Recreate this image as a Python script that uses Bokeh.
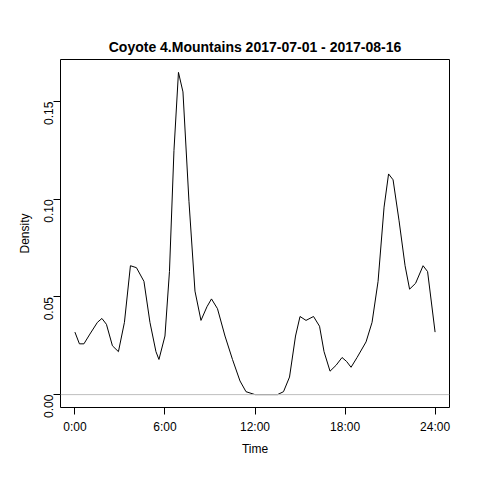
import math
from bokeh.plotting import figure
from bokeh.models import FixedTicker, Range1d, Span
from bokeh.embed import file_html
from bokeh.resources import INLINE

hours = [0,0.3,0.6,1.0,1.5,1.8,2.1,2.5,2.9,3.3,3.7,4.1,4.6,5.0,5.4,5.6,6.0,6.3,6.6,6.9,7.2,7.6,8.0,8.4,8.8,9.1,9.5,10.0,10.5,11.0,11.4,12,13.5,13.9,14.3,14.7,15.0,15.4,15.9,16.3,16.6,17.0,17.4,17.8,18.1,18.4,18.8,19.4,19.8,20.2,20.6,20.9,21.2,21.6,22.0,22.3,22.7,23.2,23.5,24.0]
density = [0.032,0.026,0.026,0.031,0.037,0.039,0.036,0.025,0.022,0.037,0.066,0.065,0.058,0.037,0.022,0.018,0.030,0.063,0.125,0.165,0.155,0.099,0.053,0.038,0.045,0.049,0.044,0.030,0.018,0.007,0.0015,0.0,0.0,0.0015,0.009,0.030,0.040,0.038,0.040,0.035,0.022,0.012,0.015,0.019,0.017,0.014,0.019,0.027,0.037,0.058,0.096,0.113,0.110,0.089,0.066,0.054,0.057,0.066,0.063,0.032]
x_ticks = [0, 6, 12, 18, 24]
x_labels = ["0:00", "6:00", "12:00", "18:00", "24:00"]
y_ticks = [0.0, 0.05, 0.10, 0.15]
y_labels = ["0.00", "0.05", "0.10", "0.15"]

p = figure(width=464, height=464, output_backend="svg", toolbar_location=None,
           x_range=Range1d(-0.96, 24.96), y_range=Range1d(-0.0066, 0.1716),
           min_border_left=60, min_border_right=15, min_border_top=59, min_border_bottom=57,
           title="Coyote 4.Mountains 2017-07-01 - 2017-08-16")
p.title.align = "center"
p.title.text_font = "Liberation Sans"
p.title.text_font_size = "14px"
p.title.text_font_style = "bold"
p.title.text_color = "black"
p.title.offset = 0
p.grid.visible = False
p.outline_line_color = "black"
p.background_fill_color = "white"

p.add_layout(Span(location=0, dimension="width", line_color="#bebebe", line_width=1))
p.line(hours, density, line_color="black", line_width=1)

p.xaxis.ticker = FixedTicker(ticks=x_ticks)
p.xaxis.major_label_overrides = {t: l for t, l in zip(x_ticks, x_labels)}
p.yaxis.ticker = FixedTicker(ticks=y_ticks)
p.yaxis.major_label_overrides = {t: l for t, l in zip(y_ticks, y_labels)}
p.yaxis.major_label_orientation = math.pi / 2
p.xaxis.axis_label = "Time"
p.yaxis.axis_label = "Density"
for ax in (p.xaxis, p.yaxis):
    ax.axis_line_color = None
    ax.minor_tick_line_color = None
    ax.major_tick_in = 0
    ax.major_tick_out = 7
    ax.major_label_text_font = "Liberation Sans"
    ax.major_label_text_font_size = "12px"
    ax.major_label_text_color = "black"
    ax.axis_label_text_font = "Liberation Sans"
    ax.axis_label_text_font_size = "12px"
    ax.axis_label_text_font_style = "normal"
    ax.axis_label_text_color = "black"

open("out.html", "w").write(file_html(p, INLINE))
